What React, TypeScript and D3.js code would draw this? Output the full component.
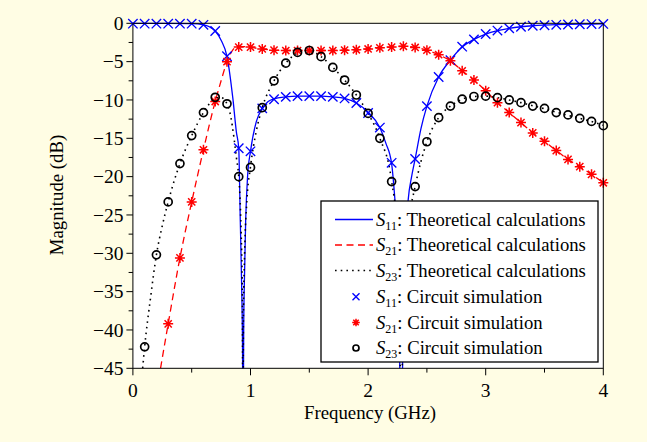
import React from "react";
import * as d3 from "d3";

// ---- Data ----
const simFreq = [0, 0.1, 0.2, 0.3, 0.4, 0.5, 0.6, 0.7, 0.8, 0.9, 1.0, 1.1, 1.2, 1.3, 1.4, 1.5, 1.6, 1.7, 1.8, 1.9, 2.0, 2.1, 2.2, 2.3, 2.4, 2.5, 2.6, 2.7, 2.8, 2.9, 3.0, 3.1, 3.2, 3.3, 3.4, 3.5, 3.6, 3.7, 3.8, 3.9, 4.0];

const s11Sim = [-0.05, -0.05, -0.05, -0.05, -0.05, -0.05, -0.2, -1.0, -4.3, -16.3, -16.7, -11.1, -9.9, -9.6, -9.5, -9.5, -9.5, -9.6, -9.8, -10.4, -11.7, -13.6, -18.2, -30, -17.7, -10.8, -7.0, -4.8, -3.05, -2.1, -1.4, -0.95, -0.65, -0.45, -0.32, -0.25, -0.2, -0.15, -0.12, -0.1, -0.08];
const s21Sim: (number | null)[] = [null, null, null, -39.2, -30.6, -23.3, -16.5, -10.2, -5.0, -3.1, -3.1, -3.35, -3.5, -3.55, -3.55, -3.55, -3.55, -3.55, -3.5, -3.45, -3.35, -3.2, -3.1, -3.0, -3.15, -3.5, -4.1, -4.9, -6.2, -7.4, -8.8, -10.35, -11.65, -12.95, -14.3, -15.4, -16.6, -17.75, -18.7, -19.7, -20.8];
const s23Sim: (number | null)[] = [null, -42.2, -30.2, -23.3, -18.3, -14.65, -11.65, -9.65, -10.5, -20.0, -18.8, -11.0, -7.5, -5.2, -3.8, -3.55, -4.35, -5.75, -7.4, -9.35, -11.75, -15.0, -20.65, -40, -21.3, -15.45, -12.3, -10.8, -9.9, -9.55, -9.5, -9.7, -10.0, -10.35, -10.8, -11.1, -11.65, -11.95, -12.4, -12.8, -13.35];

const s11TheoFreq = [0, 0.3, 0.5, 0.6, 0.65, 0.7, 0.75, 0.8, 0.85, 0.88, 0.9, 0.913, 0.925, 0.932, 0.936, 0.938, 0.942, 0.947, 0.959, 0.975, 1.0, 1.05, 1.1, 1.15, 1.2, 1.3, 1.4, 1.5, 1.6, 1.7, 1.8, 1.9, 2.0, 2.1, 2.15, 2.2, 2.228, 2.25, 2.265, 2.275, 2.285, 2.3, 2.341, 2.37, 2.4, 2.45, 2.5, 2.6, 2.7, 2.8, 2.9, 3.0, 3.1, 3.2, 3.3, 3.4, 3.5, 3.6, 3.7, 3.8, 3.9, 4.0];
const s11Theo = [-0.02, -0.02, -0.05, -0.2, -0.45, -1.0, -2.2, -4.3, -9.8, -14.2, -16.3, -25.7, -34.4, -42, -55, -55, -40, -34.4, -25.7, -20, -16.7, -12.8, -11.1, -10.2, -9.85, -9.6, -9.5, -9.5, -9.5, -9.6, -9.8, -10.4, -11.6, -13.6, -15.6, -18.3, -23, -28, -36, -55, -55, -35, -23, -20, -17.7, -13.7, -10.8, -7.0, -4.8, -3.1, -2.1, -1.4, -0.95, -0.65, -0.45, -0.32, -0.24, -0.18, -0.14, -0.11, -0.09, -0.08];

const s21TheoFreq = [0.235, 0.3, 0.4, 0.5, 0.6, 0.7, 0.75, 0.8, 0.84, 0.87, 0.9, 0.95, 1.0, 1.1, 1.2, 1.3, 1.4, 1.5, 1.6, 1.7, 1.8, 1.9, 2.0, 2.1, 2.2, 2.3, 2.4, 2.5, 2.6, 2.7, 2.8, 2.9, 3.0, 3.1, 3.2, 3.3, 3.4, 3.5, 3.6, 3.7, 3.8, 3.9, 4.0];
const s21Theo = [-45, -39.2, -30.6, -23.3, -16.5, -10.2, -7.5, -5.0, -3.7, -3.15, -3.05, -3.05, -3.15, -3.35, -3.5, -3.55, -3.55, -3.55, -3.55, -3.55, -3.5, -3.45, -3.35, -3.2, -3.1, -3.0, -3.15, -3.5, -4.1, -4.9, -6.2, -7.4, -8.8, -10.35, -11.65, -12.95, -14.3, -15.4, -16.6, -17.75, -18.7, -19.7, -20.8];

const s23TheoFreq = [0.083, 0.1, 0.15, 0.2, 0.25, 0.3, 0.35, 0.4, 0.5, 0.6, 0.65, 0.7, 0.75, 0.8, 0.83, 0.86, 0.88, 0.9, 0.91, 0.92, 0.93, 0.936, 0.94, 0.95, 0.97, 1.0, 1.05, 1.1, 1.2, 1.3, 1.4, 1.45, 1.5, 1.6, 1.7, 1.8, 1.9, 2.0, 2.1, 2.2, 2.24, 2.27, 2.28, 2.3, 2.35, 2.4, 2.5, 2.6, 2.7, 2.8, 2.9, 3.0, 3.1, 3.2, 3.3, 3.4, 3.5, 3.6, 3.7, 3.8, 3.9, 4.0];
const s23Theo = [-45, -42.2, -35.8, -30.2, -26.4, -23.3, -20.6, -18.3, -14.65, -11.65, -10.5, -9.75, -9.7, -10.5, -12, -15, -17.5, -20.0, -22.5, -27, -35, -55, -38, -30, -23, -18.7, -14, -11, -7.5, -5.2, -3.85, -3.55, -3.55, -4.35, -5.75, -7.4, -9.35, -11.75, -15.0, -20.6, -26, -40, -55, -35, -25.5, -21.3, -15.45, -12.3, -10.8, -9.9, -9.55, -9.5, -9.7, -10.0, -10.35, -10.75, -11.15, -11.6, -12.0, -12.4, -12.8, -13.3];

const xTicks = [0, 0.5, 1, 1.5, 2, 2.5, 3, 3.5, 4];
const xTickLabels = ["0", "", "1", "", "2", "", "3", "", "4"];
const yTicks = [0, -2.5, -5, -7.5, -10, -12.5, -15, -17.5, -20, -22.5, -25, -27.5, -30, -32.5, -35, -37.5, -40, -42.5, -45];
const yTickLabels = ["0", "", "−5", "", "−10", "", "−15", "", "−20", "", "−25", "", "−30", "", "−35", "", "−40", "", "−45"];

const legendLabels = ["Theoretical calculations", "Theoretical calculations", "Theoretical calculations", "Circuit simulation", "Circuit simulation", "Circuit simulation"];
const legendSubs = ["11", "21", "23", "11", "21", "23"];

const W = 647, H = 442;
const FONT = "'Liberation Serif', 'Times New Roman', serif";
const BLUE = "#0000ff", RED = "#ff0000", BLACK = "#000000";

const x = d3.scaleLinear().domain([0, 4]).range([132.9, 603.3]);
const y = d3.scaleLinear().domain([-45, 0]).range([368.3, 23.3]);

function pathFor(fs: number[], vs: number[]) {
  const pts = fs.map((f, i) => [f, vs[i]] as [number, number]);
  return d3.line<[number, number]>().x(d => x(d[0])).y(d => y(d[1])).curve(d3.curveMonotoneX)(pts) || "";
}

function Cross({ cx, cy, s = 4.7 }: { cx: number; cy: number; s?: number }) {
  return <path d={`M${cx - s},${cy - s}L${cx + s},${cy + s}M${cx - s},${cy + s}L${cx + s},${cy - s}`} stroke={BLUE} strokeWidth={1.35} fill="none" />;
}
function Star({ cx, cy, s = 5 }: { cx: number; cy: number; s?: number }) {
  const d = s * 0.72;
  return <path d={`M${cx - s},${cy}L${cx + s},${cy}M${cx},${cy - s}L${cx},${cy + s}M${cx - d},${cy - d}L${cx + d},${cy + d}M${cx - d},${cy + d}L${cx + d},${cy - d}`} stroke={RED} strokeWidth={1.5} fill="none" />;
}
function Circ({ cx, cy, r = 4 }: { cx: number; cy: number; r?: number }) {
  return <circle cx={cx} cy={cy} r={r} stroke={BLACK} strokeWidth={1.7} fill="none" />;
}

export default function App() {
  const x0 = x(0), x1 = x(4), yTop = y(0), yBot = y(-45);
  const legX = 321, legY = 201, legW = 277, legH = 161;
  const rowY = [219.5, 245, 270.5, 296.8, 322.5, 348];
  return (
    <svg width={W} height={H} style={{ position: "absolute", left: 0, top: 0, fontFamily: FONT }}>
      <rect x={0} y={0} width={W} height={H} fill="#fffde4" />
      <defs>
        <clipPath id="plotclip">
          <rect x={x0} y={yTop - 1} width={x1 - x0} height={yBot - yTop + 1} />
        </clipPath>
      </defs>
      <rect x={x0} y={yTop} width={x1 - x0} height={yBot - yTop} fill="#ffffff" stroke="none" />
      {xTicks.map((t, i) => (
        <g key={"xt" + i}>
          <line x1={x(t)} x2={x(t)} y1={yBot} y2={yBot + (xTickLabels[i] ? 7 : 4.3)} stroke={BLACK} strokeWidth={1} />
          {xTickLabels[i] && (
            <text x={x(t)} y={396.5} textAnchor="middle" fontSize={19.5} fill={BLACK}>{xTickLabels[i]}</text>
          )}
        </g>
      ))}
      {yTicks.map((t, i) => (
        <g key={"yt" + i}>
          <line x1={x0 - (yTickLabels[i] ? 6.5 : 4.3)} x2={x0} y1={y(t)} y2={y(t)} stroke={BLACK} strokeWidth={1} />
          {yTickLabels[i] && (
            <text x={123.5} y={y(t)} dy="0.34em" textAnchor="end" fontSize={19.5} fill={BLACK}>{yTickLabels[i]}</text>
          )}
        </g>
      ))}
      <text x={370} y={419} textAnchor="middle" fontSize={18.8} fill={BLACK}>Frequency (GHz)</text>
      <text transform={`translate(62.5,195) rotate(-90)`} textAnchor="middle" fontSize={18.8} fill={BLACK}>Magnitude (dB)</text>

      <g clipPath="url(#plotclip)">
        <path d={pathFor(s11TheoFreq, s11Theo)} stroke={BLUE} strokeWidth={1.3} fill="none" />
        <path d={pathFor(s21TheoFreq, s21Theo)} stroke={RED} strokeWidth={1.3} strokeDasharray="7 4.5" fill="none" />
        <path d={pathFor(s23TheoFreq, s23Theo)} stroke={BLACK} strokeWidth={1.6} strokeDasharray="1.6 4.1" fill="none" />
      </g>
      {simFreq.map((f, i) => <Cross key={"c" + i} cx={x(f)} cy={y(s11Sim[i])} />)}
      {simFreq.map((f, i) => s21Sim[i] === null ? null : <Star key={"s" + i} cx={x(f)} cy={y(s21Sim[i] as number)} />)}
      {simFreq.map((f, i) => s23Sim[i] === null ? null : <Circ key={"o" + i} cx={x(f)} cy={y(s23Sim[i] as number)} />)}

      <rect x={x0} y={yTop} width={x1 - x0} height={yBot - yTop} fill="none" stroke={BLACK} strokeWidth={1} />

      <rect x={legX} y={legY} width={legW} height={legH} fill="#ffffff" stroke={BLACK} strokeWidth={1.3} />
      <line x1={335} x2={373} y1={rowY[0]} y2={rowY[0]} stroke={BLUE} strokeWidth={1.3} />
      <line x1={335} x2={373} y1={rowY[1]} y2={rowY[1]} stroke={RED} strokeWidth={1.3} strokeDasharray="7 4.5" />
      <line x1={335} x2={373} y1={rowY[2]} y2={rowY[2]} stroke={BLACK} strokeWidth={1.6} strokeDasharray="1.6 4.1" />
      <Cross cx={356} cy={rowY[3]} s={3.5} />
      <Star cx={356} cy={rowY[4]} s={3.8} />
      <Circ cx={356} cy={rowY[5]} r={3} />
      {legendLabels.map((lab, i) => (
        <text key={"lg" + i} x={376} y={rowY[i] + 6} fontSize={18.7} fill={BLACK}>
          <tspan fontStyle="italic">S</tspan>
          <tspan fontSize={12} dy={4}>{legendSubs[i]}</tspan>
          <tspan dy={-4}>{": " + lab}</tspan>
        </text>
      ))}
    </svg>
  );
}
